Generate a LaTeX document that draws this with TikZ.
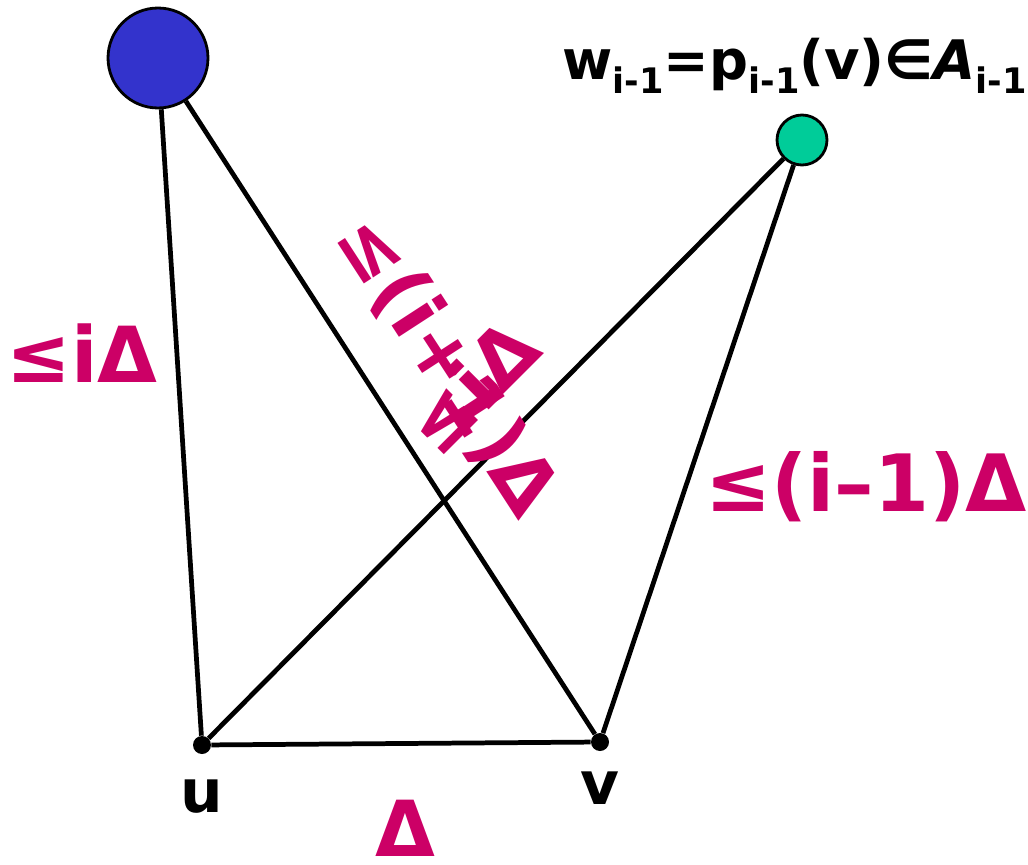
\documentclass[tikz,border=0pt]{standalone}
\usepackage{fontspec}
\setmainfont{DejaVu Sans}
\usetikzlibrary{positioning}
\definecolor{distcol}{HTML}{CC0066}
\definecolor{farcol}{HTML}{3333CC}
\definecolor{nearcol}{HTML}{00CC99}
\newcommand{\lowidx}[1]{\raisebox{-0.45ex}{\fontsize{20}{22}\selectfont #1}}

\begin{document}
\begin{tikzpicture}[
    x=0.02cm, y=-0.02cm,
    vertex/.style={circle, fill=black, inner sep=0pt, minimum size=0.36cm},
    centre/.style={circle, draw=black, line width=1.6pt, fill=#1, inner sep=0pt},
    edge/.style={line width=2.7pt, black},
    dist/.style={text=distcol, font=\fontsize{44}{50}\selectfont\bfseries, inner sep=0pt},
    vname/.style={font=\fontsize{34}{40}\selectfont\bfseries, inner sep=0pt}
]
    \useasboundingbox (0,0) rectangle (1028,865);

    % Points
    \node[centre=farcol, minimum size=2cm] (wi) at (158,58) {};
    \node[centre=nearcol, minimum size=1cm] (wprev) at (802,140) {};
    \node[vertex] (u) at (202,745) {};
    \node[vertex] (v) at (600,742) {};

    % Edges
    \draw[edge] (wi) -- (u);
    \draw[edge] (wi) -- (v);
    \draw[edge] (u) -- (wprev);
    \draw[edge] (v) -- (wprev);
    \draw[edge] (u) -- (v);

    % Point names
    \node[vname, below=0.5cm of u] (ulabel) {u};
    \node[vname, below=0.4cm of v] (vlabel) {v};
    \node[vname, font=\fontsize{31}{36}\selectfont\bfseries, anchor=base west] (wlabel) at (562,80)
        {w\lowidx{i-1}=p\lowidx{i-1}(v)∈\textit{A}\lowidx{i-1}};

    % Distances
    \node[dist] (dwu) at (82,353) {≤iΔ};
    \node[dist, font=\fontsize{45}{50}\selectfont\bfseries, anchor=west] (dvw) at (705,487) {≤(i–1)Δ};
    \node[dist] (duv) at (405,828) {Δ};
    \node[dist, rotate=-57] (dwv) at (447,366) {≤(i+1)Δ};
    \node[dist, rotate=45] (duw) at (471,386) {≤iΔ};

\end{tikzpicture}
\end{document}
